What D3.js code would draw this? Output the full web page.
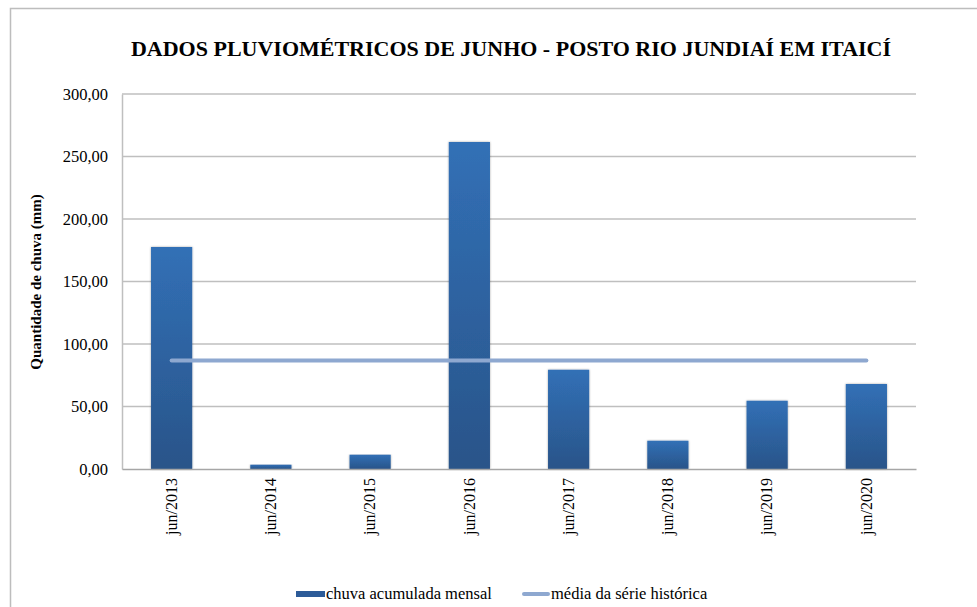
<!DOCTYPE html>
<html><head><meta charset="utf-8">
<script src="https://cdn.jsdelivr.net/npm/d3@7"></script>
<style>body{margin:0;background:#fff}svg{display:block}</style>
</head><body>
<svg id="c" width="977" height="607"></svg>
<script>
const categories = ["jun/2013","jun/2014","jun/2015","jun/2016","jun/2017","jun/2018","jun/2019","jun/2020"];
const rainfall = [177.6, 3.4, 11.4, 261.6, 79.4, 22.6, 54.6, 68.0];
const seriesMean = [86.8, 86.8, 86.8, 86.8, 86.8, 86.8, 86.8, 86.8];
const yTicks = [0, 50, 100, 150, 200, 250, 300];
const title = "DADOS PLUVIOMÉTRICOS DE JUNHO - POSTO RIO JUNDIAÍ EM ITAICÍ";
const yTitle = "Quantidade de chuva (mm)";
const legendLabels = ["chuva acumulada mensal", "média da série histórica"];

const svg = d3.select("#c");
const FF = '"Liberation Serif", "Times New Roman", serif';
const serif = sel => sel.style("font-family", FF, "important");
const m = {l:122, r:916, t:94, b:469};

// outer frame
svg.append("path").attr("d","M10.5,620 V8.5 H990").attr("fill","none").attr("stroke","#bdbdbd").attr("stroke-width",1.5);

const defs = svg.append("defs");
const g = defs.append("linearGradient").attr("id","bg").attr("x1",0).attr("y1",0).attr("x2",0).attr("y2",1);
g.append("stop").attr("offset","0%").attr("stop-color","#3170b6");
g.append("stop").attr("offset","100%").attr("stop-color","#2a5489");
const f = defs.append("filter").attr("id","sh").attr("x","-20%").attr("y","-5%").attr("width","140%").attr("height","110%");
f.append("feGaussianBlur").attr("in","SourceAlpha").attr("stdDeviation",1.2).attr("result","b");
f.append("feOffset").attr("in","b").attr("dx",0).attr("dy",0).attr("result","o");
f.append("feComponentTransfer").attr("in","o").attr("result","o2").append("feFuncA").attr("type","linear").attr("slope",0.35);
const fm = f.append("feMerge"); fm.append("feMergeNode").attr("in","o2"); fm.append("feMergeNode").attr("in","SourceGraphic");

const x = d3.scaleBand().domain(categories).range([m.l, m.r]).paddingInner(0.585).paddingOuter(0.2925);
const y = d3.scaleLinear().domain([0,300]).range([m.b, m.t]);

// gridlines
svg.append("g").selectAll("line").data(yTicks.filter(d=>d>0)).join("line")
  .attr("x1",m.l).attr("x2",m.r).attr("y1",d=>y(d)).attr("y2",d=>y(d))
  .attr("stroke","#bfbfbf").attr("stroke-width",1.5);

// y axis
const ya = svg.append("g").attr("transform",`translate(${m.l},0)`)
  .call(d3.axisLeft(y).tickValues(yTicks).tickSize(0).tickPadding(14).tickFormat(d=>d3.format(".2f")(d).replace(".",",")));
ya.select(".domain").attr("stroke","#bfbfbf").attr("stroke-width",1.5);
ya.selectAll("text").call(serif).style("font-size","16.5px").attr("fill","#000");

// bars
svg.append("g").selectAll("rect").data(rainfall).join("rect")
  .attr("x",(d,i)=>x(categories[i])).attr("width",x.bandwidth())
  .attr("y",d=>y(d)).attr("height",d=>y(0)-y(d))
  .attr("fill","url(#bg)").attr("filter","url(#sh)");

// x axis
const xa = svg.append("g").attr("transform",`translate(0,${m.b})`)
  .call(d3.axisBottom(x).tickSize(0).tickPadding(0));
xa.select(".domain").attr("stroke","#a6a6a6").attr("stroke-width",1.5);
xa.selectAll("text").call(serif).style("font-size","16px").attr("fill","#000")
  .attr("transform","rotate(-90)").attr("text-anchor","end").attr("dy","0.33em").attr("x",-9).attr("y",0);

// mean line
const line = d3.line().x((d,i)=>x(categories[i])+x.bandwidth()/2).y(d=>y(d));
svg.append("path").datum(seriesMean).attr("d",line).attr("fill","none")
  .attr("stroke","#8ea8d0").attr("stroke-width",4).attr("stroke-linecap","round");

// title
svg.append("text").attr("x",511).attr("y",56).attr("text-anchor","middle").call(serif)
  .style("font-weight","bold").style("font-size","22px").text(title);

// y title
svg.append("text").attr("transform","translate(41,282) rotate(-90)").attr("text-anchor","middle").call(serif)
  .style("font-weight","bold").style("font-size","15px").text(yTitle);

// legend
const lg = svg.append("g");
lg.append("rect").attr("x",296).attr("y",591).attr("width",29).attr("height",6).attr("fill","#2c5b98");
lg.append("text").attr("x",326).attr("y",599).call(serif).style("font-size","16.5px").text(legendLabels[0]);
lg.append("line").attr("x1",524).attr("x2",548).attr("y1",594).attr("y2",594).attr("stroke","#8ea8d0").attr("stroke-width",4).attr("stroke-linecap","round");
lg.append("text").attr("x",551).attr("y",599).call(serif).style("font-size","16.5px").text(legendLabels[1]);
</script>
</body></html>
